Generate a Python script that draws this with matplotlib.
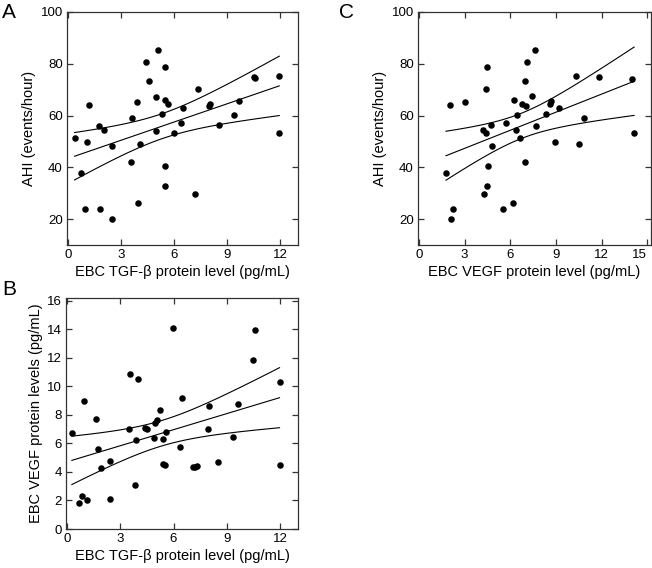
import numpy as np
import matplotlib
matplotlib.use("Agg")
import matplotlib.pyplot as plt

plt.rcParams['font.family'] = ['Liberation Sans', 'DejaVu Sans']

# Panel A: TGF-beta (x) vs AHI (y)
a_tgf = [0.38, 0.75, 0.94, 1.09, 1.22, 1.73, 1.82, 2.03, 2.48, 2.48,
         3.54, 3.64, 3.90, 3.96, 4.07, 4.41, 4.56, 4.97, 5.00, 5.10,
         5.33, 5.46, 5.46, 5.51, 5.51, 5.63, 6.02, 6.41, 6.53, 7.18,
         7.37, 7.95, 8.01, 8.53, 9.36, 9.66, 10.54, 10.58, 11.94, 11.94]
a_ahi = [51.5, 37.9, 23.9, 49.7, 64.0, 55.8, 24.0, 54.5, 48.1, 20.1,
         42.2, 59.2, 65.3, 26.4, 49.0, 80.6, 73.3, 54.2, 67.3, 85.5,
         60.5, 66.2, 40.4, 78.7, 32.6, 64.6, 53.1, 57.3, 63.0, 29.6,
         70.3, 63.8, 64.3, 56.2, 60.3, 65.5, 74.8, 74.5, 75.1, 53.3]

# Panel B: TGF-beta (x) vs VEGF (y)
b_tgf = [0.28, 0.66, 0.85, 0.98, 1.13, 1.64, 1.74, 1.93, 2.40, 2.40,
         3.48, 3.57, 3.84, 3.91, 4.00, 4.37, 4.50, 4.88, 4.95, 5.05,
         5.25, 5.39, 5.40, 5.52, 5.57, 5.95, 6.35, 6.46, 7.12, 7.22,
         7.31, 7.92, 7.99, 8.52, 9.35, 9.64, 10.49, 10.56, 11.96, 11.96]
b_vegf = [6.70, 1.82, 2.29, 8.97, 2.03, 7.71, 5.58, 4.25, 4.79, 2.10,
          7.01, 10.86, 3.11, 6.24, 10.53, 7.08, 6.98, 6.38, 7.45, 7.64,
          8.34, 6.28, 4.55, 4.48, 6.77, 14.13, 5.75, 9.20, 4.32, 4.37,
          4.39, 7.01, 8.64, 4.72, 6.47, 8.74, 11.87, 13.97, 10.30, 4.48]

# Panel C: VEGF (x) vs AHI (y)
c_vegf = [1.78, 2.05, 2.11, 2.27, 3.06, 4.24, 4.29, 4.38, 4.44, 4.46,
          4.49, 4.53, 4.71, 4.79, 5.54, 5.72, 6.18, 6.27, 6.36, 6.44,
          6.66, 6.75, 6.99, 6.99, 7.04, 7.08, 7.43, 7.61, 7.70, 8.34,
          8.62, 8.69, 8.95, 9.19, 10.29, 10.51, 10.84, 11.85, 13.99, 14.14]
c_ahi = [38.0, 64.0, 20.1, 23.9, 65.3, 54.6, 29.6, 70.3, 53.3, 78.7,
         32.7, 40.4, 56.2, 48.1, 24.0, 57.3, 26.4, 66.2, 54.4, 60.3,
         51.5, 64.6, 73.3, 42.2, 63.8, 80.6, 67.5, 85.5, 55.8, 60.5,
         64.3, 65.5, 49.7, 63.0, 75.1, 48.9, 59.2, 74.8, 74.3, 53.1]

W, H = 652, 568
fig = plt.figure(figsize=(W / 100, H / 100), dpi=100)


def box(l, t, r, b):
    return [l / W, 1 - b / H, (r - l) / W, (b - t) / H]


def panel(rect, x, y, xlim, ylim, xticks, yticks, xlabel, ylabel):
    ax = fig.add_axes(rect)
    x = np.array(x)
    y = np.array(y)
    ax.scatter(x, y, s=22, color='black', zorder=3, linewidths=0)
    # least squares fit with 95% confidence band of the mean
    n = len(x)
    slope, icpt = np.polyfit(x, y, 1)
    xs = np.linspace(x.min(), x.max(), 100)
    fit = icpt + slope * xs
    resid = y - (icpt + slope * x)
    s = np.sqrt(np.sum(resid ** 2) / (n - 2))
    se = s * np.sqrt(1 / n + (xs - x.mean()) ** 2 / np.sum((x - x.mean()) ** 2))
    t = 2.024
    for yy in (fit, fit + t * se, fit - t * se):
        ax.plot(xs, yy, color='black', lw=0.8)
    ax.set_xlim(*xlim)
    ax.set_ylim(*ylim)
    ax.set_xticks(xticks)
    ax.set_yticks(yticks)
    ax.tick_params(direction='in', length=4, width=0.9, top=True, right=True,
                   labelsize=9.5, pad=3, color='#333333')
    for sp in ax.spines.values():
        sp.set_linewidth(0.9)
        sp.set_color('#333333')
    ax.set_xlabel(xlabel, fontsize=10.5, labelpad=3)
    ax.set_ylabel(ylabel, fontsize=10.5, labelpad=3)
    return ax


panel(box(67, 12, 298, 245), a_tgf, a_ahi, (-0.05, 13), (10, 100),
      [0, 3, 6, 9, 12], [20, 40, 60, 80, 100],
      'EBC TGF-\u03b2 protein level (pg/mL)', 'AHI (events/hour)')
panel(box(66, 298, 298, 529), b_tgf, b_vegf, (-0.05, 13), (0, 16.2),
      [0, 3, 6, 9, 12], list(range(0, 17, 2)),
      'EBC TGF-\u03b2 protein level (pg/mL)', 'EBC VEGF protein levels (pg/mL)')
axc = panel(box(418, 12, 651, 245), c_vegf, c_ahi, (-0.06, 15.25), (10, 100),
            [0, 3, 6, 9, 12, 15], [20, 40, 60, 80, 100],
            'EBC VEGF protein level (pg/mL)', 'AHI (events/hour)')
axc.get_xticklabels()[-1].set_horizontalalignment('right')

fig.text(2 / W, 1 - 3 / H, 'A', fontsize=15, va='top', ha='left')
fig.text(2 / W, 1 - 280 / H, 'B', fontsize=15, va='top', ha='left')
fig.text(339 / W, 1 - 3 / H, 'C', fontsize=15, va='top', ha='left')

fig.savefig('out.png', dpi=100)
